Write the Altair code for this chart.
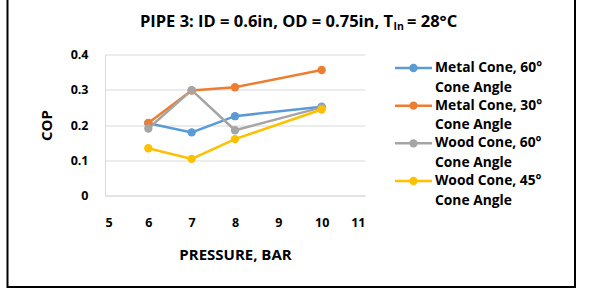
import altair as alt
import pandas as pd

# Measurements: inlet pressure (bar) vs. coefficient of performance
pressure = [6, 7, 8, 10]
metal_60 = [0.205, 0.179, 0.225, 0.252]
metal_30 = [0.206, 0.298, 0.307, 0.356]
wood_60 = [0.190, 0.299, 0.185, 0.250]
wood_45 = [0.134, 0.104, 0.160, 0.244]

series_names = [
    "Metal Cone, 60° Cone Angle",
    "Metal Cone, 30° Cone Angle",
    "Wood Cone, 60° Cone Angle",
    "Wood Cone, 45° Cone Angle",
]
series_colors = ["#5B9BD5", "#ED7D31", "#A5A5A5", "#FFC000"]

title_main = "PIPE 3: ID = 0.6in, OD = 0.75in, T"
title_sub = "In"
title_tail = "= 28°C"

x_ticks = [5, 6, 7, 8, 9, 10, 11]
y_ticks = [0, 0.1, 0.2, 0.3, 0.4]

FONT = "Open Sans"

rows = []
for name, values in zip(series_names, [metal_60, metal_30, wood_60, wood_45]):
    for p, v in zip(pressure, values):
        rows.append({"series": name, "pressure": p, "cop": v})
df = pd.DataFrame(rows)

color = alt.Color(
    "series:N",
    scale=alt.Scale(domain=series_names, range=series_colors),
    legend=None,
)

x_enc = alt.X(
    "pressure:Q",
    scale=alt.Scale(domain=[5, 11], nice=False),
    axis=alt.Axis(
        values=x_ticks,
        title="PRESSURE, BAR",
        grid=False,
        ticks=False,
        domainColor="#D9D9D9",
        labelPadding=21,
        labelOverlap=False,
        titlePadding=18,
    ),
)
y_enc = alt.Y(
    "cop:Q",
    scale=alt.Scale(domain=[0, 0.4], nice=False),
    axis=alt.Axis(
        values=y_ticks,
        title="COP",
        ticks=False,
        domainColor="#D9D9D9",
        gridColor="#D9D9D9",
        labelPadding=17,
        labelOverlap=False,
        titlePadding=16,
        labelExpr="datum.value == 0 ? '0' : format(datum.value, '.1f')",
    ),
)

lines = alt.Chart(df).mark_line(strokeWidth=2.5).encode(
    x=x_enc, y=y_enc, color=color, detail="series:N"
)
points = alt.Chart(df).mark_point(filled=True, size=70, opacity=1).encode(
    x=x_enc, y=y_enc, color=color
)
data_layer = alt.layer(lines, points)

# Hand-built legend on its own vertical point scale
legend_df = pd.DataFrame({"series": series_names})
legend_y = alt.Y(
    "series:N",
    scale=alt.Scale(type="point", domain=series_names, range=[13.5, 126.5], padding=0),
    axis=None,
)
legend_base = alt.Chart(legend_df).transform_calculate(
    line1="replace(datum.series, ' Cone Angle', '')",
    line2="'Cone Angle'",
)
leg_rule = legend_base.mark_rule(strokeWidth=2.5).encode(
    x=alt.value(290), x2=alt.value(327), y=legend_y, color=color
)
leg_pt = legend_base.mark_point(filled=True, size=70, opacity=1).encode(
    x=alt.value(308.5), y=legend_y, color=color
)
leg_txt1 = legend_base.mark_text(
    align="left", baseline="middle", font=FONT, fontSize=13.8, fontWeight="bold", color="#000000"
).encode(x=alt.value(330), y=legend_y, text="line1:N")
leg_txt2 = legend_base.mark_text(
    align="left", baseline="middle", font=FONT, fontSize=13.8, fontWeight="bold", color="#000000", dy=19.5
).encode(x=alt.value(330), y=legend_y, text="line2:N")
legend_layer = alt.layer(leg_rule, leg_pt, leg_txt1, leg_txt2)

# Title with subscripted "In"
one = pd.DataFrame({"k": [0]})
t_main = alt.Chart(one).mark_text(
    align="right", baseline="middle", font=FONT, fontSize=16.5, fontWeight="bold", color="#000000"
).encode(x=alt.value(288), y=alt.value(-32.5), text=alt.value(title_main))
t_sub = alt.Chart(one).mark_text(
    align="left", baseline="middle", font=FONT, fontSize=10.5, fontWeight="bold", color="#000000"
).encode(x=alt.value(288.5), y=alt.value(-27.5), text=alt.value(title_sub))
t_tail = alt.Chart(one).mark_text(
    align="left", baseline="middle", font=FONT, fontSize=16.5, fontWeight="bold", color="#000000"
).encode(x=alt.value(302), y=alt.value(-32.5), text=alt.value(title_tail))

# Outer frame
frame = alt.Chart(one).mark_rect(fill=None, stroke="#000000", strokeWidth=2).encode(
    x=alt.value(-97.5), x2=alt.value(470), y=alt.value(-70), y2=alt.value(232.5)
)

chart = (
    alt.layer(data_layer, legend_layer, t_main, t_sub, t_tail, frame)
    .resolve_scale(y="independent")
    .properties(
        width=260,
        height=141,
        autosize=alt.AutoSizeParams(type="none"),
        padding={"left": 105, "top": 54.5, "right": 226, "bottom": 98.5},
        background="#FFFFFF",
    )
    .configure_view(stroke=None)
    .configure_axis(
        labelFont=FONT,
        labelFontSize=12.5,
        labelFontWeight="bold",
        labelColor="#000000",
        titleFont=FONT,
        titleFontSize=15,
        titleFontWeight="bold",
        titleColor="#000000",
    )
)

chart.save("out.html", embed_options={"renderer": "svg", "actions": False})
